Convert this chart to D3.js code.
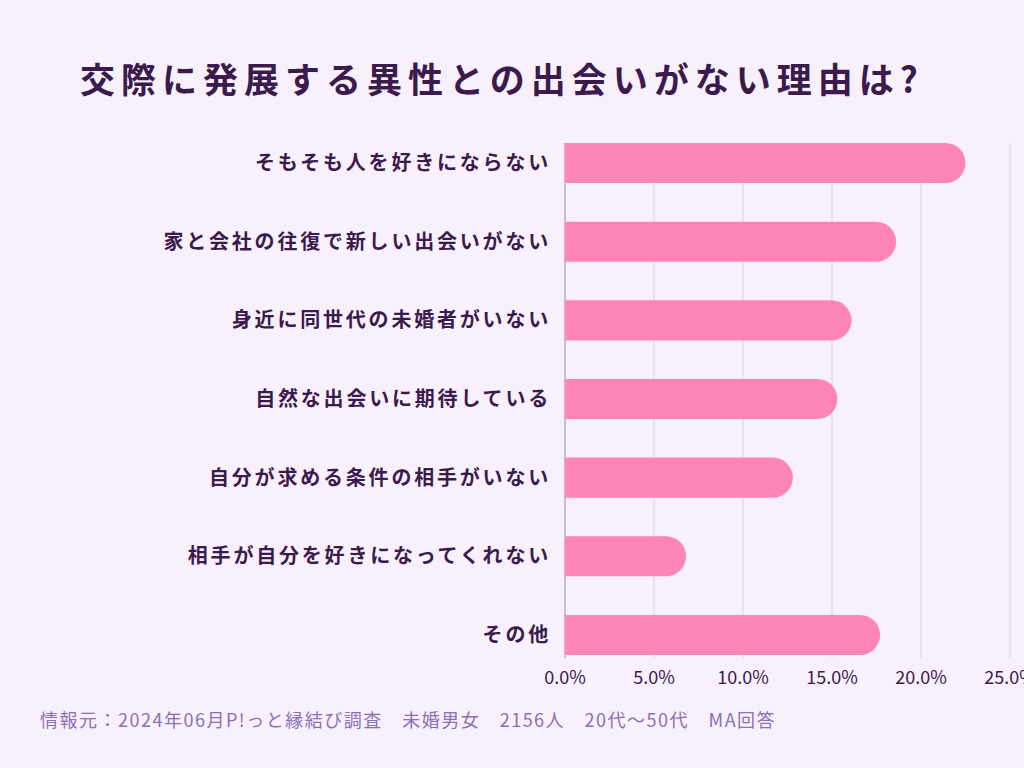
<!DOCTYPE html>
<html><head><meta charset="utf-8">
<script src="https://cdn.jsdelivr.net/npm/d3@7"></script>
<style>body{margin:0;background:#f8f1fc;}</style>
</head><body>
<div id="chart"></div>
<script>
var categories = ["そもそも人を好きにならない","家と会社の往復で新しい出会いがない","身近に同世代の未婚者がいない","自然な出会いに期待している","自分が求める条件の相手がいない","相手が自分を好きになってくれない","その他"];
var values = [22.5, 18.6, 16.1, 15.3, 12.8, 6.8, 17.7];
var ticks = [0, 5, 10, 15, 20, 25];

var font = "'Noto Sans CJK JP', sans-serif";
var margin = {top: 143, left: 565};
var W = 1024, H = 768;

var svg = d3.select("#chart").append("svg").attr("width", W).attr("height", H)
    .style("background", "#f8f1fc");

svg.append("text").attr("x", 80).attr("y", 93).attr("fill", "#3b1a4d")
    .style("font-family", font).style("font-size", "35px").style("font-weight", 700)
    .style("letter-spacing", "6px")
    .text("交際に発展する異性との出会いがない理由は?");

var g = svg.append("g").attr("transform", "translate(" + margin.left + "," + margin.top + ")");

var x = d3.scaleLinear().domain([0, 25]).range([0, 445]);
var y = d3.scaleBand().domain(categories).range([0, 512]).paddingInner(0.49).paddingOuter(0);

g.selectAll(".grid").data(ticks.slice(1)).enter().append("line")
    .attr("x1", x).attr("x2", x).attr("y1", 0).attr("y2", 515)
    .attr("stroke", "#dccbe8").attr("stroke-width", 1);
g.append("line").attr("x1", 0).attr("x2", 0).attr("y1", 0).attr("y2", 515)
    .attr("stroke", "#9b86b5").attr("stroke-width", 1);

g.selectAll(".bar").data(values).enter().append("path")
    .attr("fill", "#ff85b8")
    .attr("d", function(d, i) {
        var y0 = y(categories[i]), h = y.bandwidth(), r = h / 2, w = x(d);
        return "M0," + y0 + "H" + (w - r) + "A" + r + "," + r + " 0 0 1 " + (w - r) + "," + (y0 + h) + "H0Z";
    });

g.selectAll(".cat").data(categories).enter().append("text")
    .attr("x", -14).attr("y", function(d) { return y(d) + y.bandwidth() / 2; })
    .attr("dy", "0.35em").attr("text-anchor", "end").attr("fill", "#3b1a4d")
    .style("font-family", font).style("font-size", "20px").style("font-weight", 700)
    .style("letter-spacing", "2.8px")
    .text(function(d) { return d; });

g.selectAll(".tick").data(ticks).enter().append("text")
    .attr("x", x).attr("y", 541).attr("text-anchor", "middle").attr("fill", "#3b1a4d")
    .style("font-family", font).style("font-size", "18px")
    .text(function(d) { return d.toFixed(1) + "%"; });

svg.append("text").attr("x", 40).attr("y", 727).attr("fill", "#8a70b5")
    .style("font-family", font).style("font-size", "18px").style("letter-spacing", "1.5px")
    .text("情報元：2024年06月P!っと縁結び調査　未婚男女　2156人　20代〜50代　MA回答");
</script>
</body></html>
